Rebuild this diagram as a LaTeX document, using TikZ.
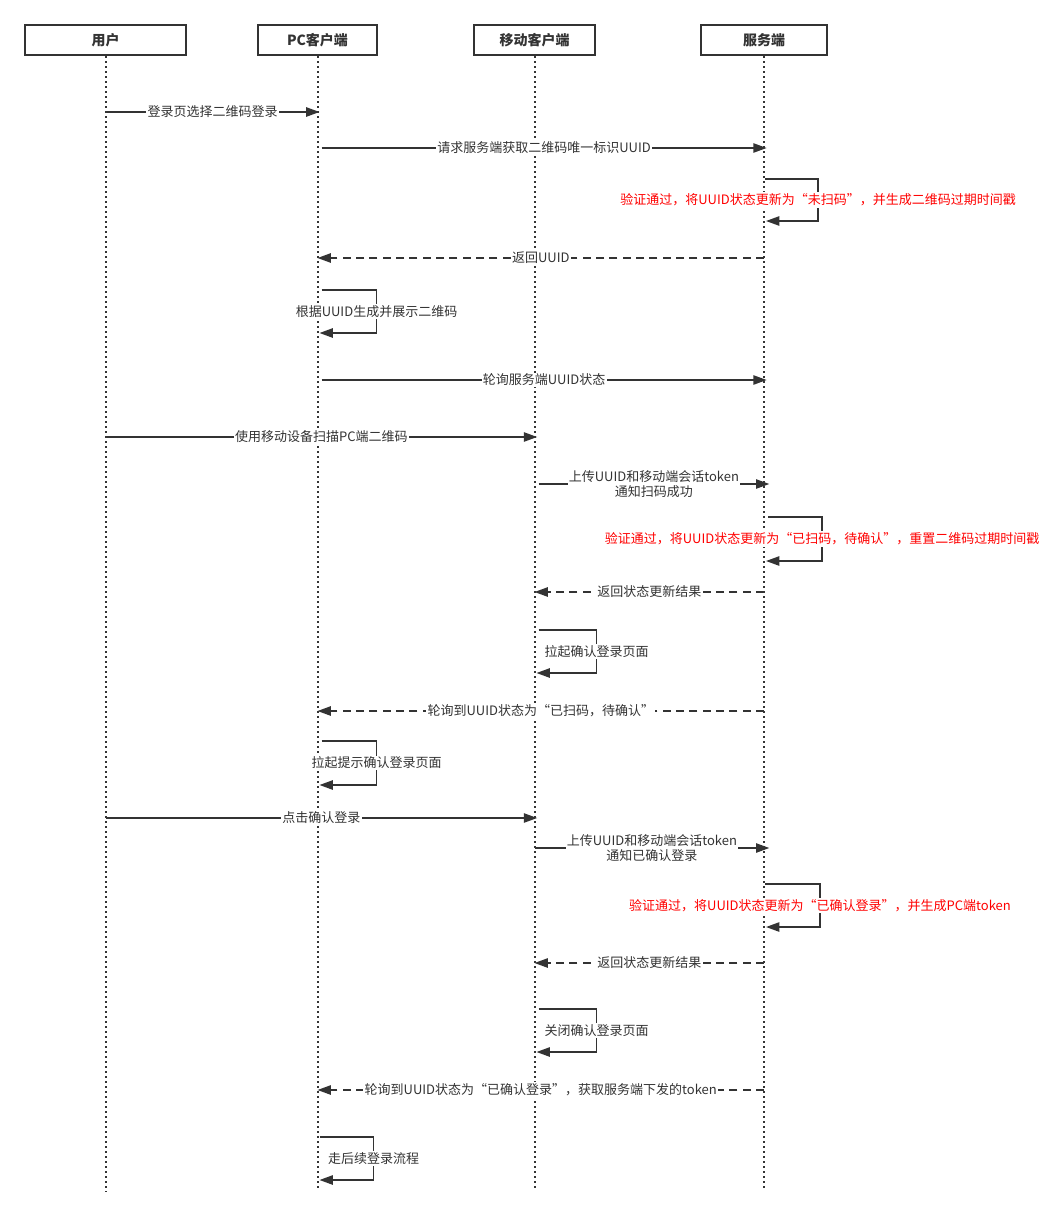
\documentclass[tikz,border=0pt]{standalone}
\usepackage{fontspec}
\setmainfont{Noto Sans CJK SC}
\usetikzlibrary{arrows.meta}
\definecolor{ink}{HTML}{333333}
\definecolor{note}{HTML}{FF0000}
\begin{document}
\begin{tikzpicture}[x=0.75pt,y=-0.75pt,
  actor/.style={draw=ink, line width=1.5pt, minimum height=22.5pt, inner sep=0pt,
    text=ink, font=\fontsize{10.5}{12}\selectfont\bfseries},
  lifeline/.style={draw=ink, line width=1.5pt, dash pattern=on 1.5pt off 2.25pt},
  msg/.style={draw=ink, line width=1.15pt, -{Triangle[length=10pt,width=7pt]}},
  reply/.style={msg, dash pattern=on 6pt off 4pt},
  lbl/.style={fill=white, text=ink, inner sep=1pt, align=center,
    font=\fontsize{9.75}{11.5}\selectfont},
  redlbl/.style={lbl, text=note}]
\useasboundingbox (0,0) rectangle (1054,1221);

% participants
\node[actor, minimum width=120.75pt] (u)   at (105.5,40) {用户};
\node[actor, minimum width=89.25pt]  (pc)  at (317.5,40) {PC客户端};
\node[actor, minimum width=90.75pt]  (mob) at (534.5,40) {移动客户端};
\node[actor, minimum width=94.5pt]   (srv) at (764,40)   {服务端};

% lifelines
\draw[lifeline] (u.south)   -- (u |- 0,1192);
\draw[lifeline] (pc.south)  -- (pc |- 0,1188);
\draw[lifeline] (mob.south) -- (mob |- 0,1188);
\draw[lifeline] (srv.south) -- (srv |- 0,1188);

% messages
\draw[msg] (u |- 0,112) -- node[lbl]{登录页选择二维码登录} ([xshift=1.5pt]pc |- 0,112);
\draw[msg] ([xshift=3pt]pc |- 0,148) -- node[lbl]{请求服务端获取二维码唯一标识UUID} ([xshift=2pt]srv |- 0,148);
\draw[msg] (srv |- 0,179) ++(1,0) -- ++(53,0)
  -- node[redlbl]{验证通过，将UUID状态更新为“未扫码”，并生成二维码过期时间戳} ++(0,42) -- ++(-52,0);
\draw[reply] (srv |- 0,258) -- node[lbl]{返回UUID} (pc |- 0,258);
\draw[msg] (pc |- 0,290) ++(4,0) -- ++(55,0)
  -- node[lbl]{根据UUID生成并展示二维码} ++(0,43) -- ++(-57,0);
\draw[msg] ([xshift=3pt]pc |- 0,380) -- node[lbl]{轮询服务端UUID状态} ([xshift=2pt]srv |- 0,380);
\draw[msg] (u |- 0,437) -- node[lbl]{使用移动设备扫描PC端二维码} ([xshift=2pt]mob |- 0,437);
\draw[msg] (mob |- 0,484) ++(4,0) -- node[lbl]{上传UUID和移动端会话token\\通知扫码成功} ([xshift=4pt]srv |- 0,484);
\draw[msg] (srv |- 0,517) ++(4,0) -- ++(54,0)
  -- node[redlbl]{验证通过，将UUID状态更新为“已扫码，待确认”，重置二维码过期时间戳} ++(0,44) -- ++(-56,0);
\draw[reply] (srv |- 0,592) -- node[lbl]{返回状态更新结果} (mob |- 0,592);
\draw[msg] (mob |- 0,630) ++(4,0) -- ++(58,0)
  -- node[lbl]{拉起确认登录页面} ++(0,43) -- ++(-60,0);
\draw[reply] (srv |- 0,711) -- node[lbl]{轮询到UUID状态为“已扫码，待确认”} (pc |- 0,711);
\draw[msg] (pc |- 0,741) ++(4,0) -- ++(55,0)
  -- node[lbl]{拉起提示确认登录页面} ++(0,44) -- ++(-57,0);
\draw[msg] (u |- 0,818) -- node[lbl]{点击确认登录} ([xshift=2pt]mob |- 0,818);
\draw[msg] (mob |- 0,848) -- node[lbl]{上传UUID和移动端会话token\\通知已确认登录} ([xshift=4pt]srv |- 0,848);
\draw[msg] (srv |- 0,884) ++(1,0) -- ++(55,0)
  -- node[redlbl]{验证通过，将UUID状态更新为“已确认登录”，并生成PC端token} ++(0,43) -- ++(-54,0);
\draw[reply] (srv |- 0,963) -- node[lbl]{返回状态更新结果} (mob |- 0,963);
\draw[msg] (mob |- 0,1009) ++(4,0) -- ++(58,0)
  -- node[lbl]{关闭确认登录页面} ++(0,43) -- ++(-60,0);
\draw[reply] (srv |- 0,1090) -- node[lbl]{轮询到UUID状态为“已确认登录”，获取服务端下发的token} (pc |- 0,1090);
\draw[msg] (pc |- 0,1137) ++(2,0) -- ++(54,0)
  -- node[lbl]{走后续登录流程} ++(0,43) -- ++(-54,0);
\end{tikzpicture}
\end{document}
